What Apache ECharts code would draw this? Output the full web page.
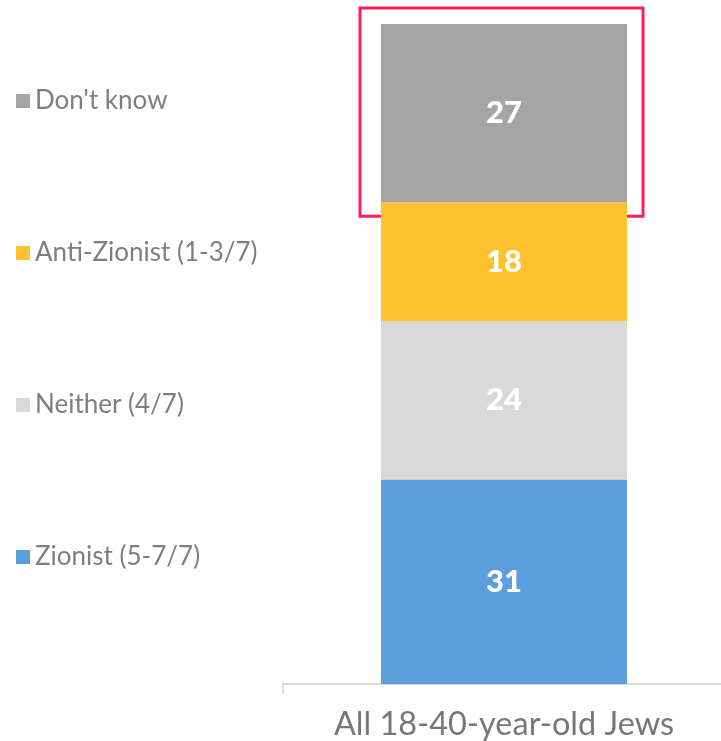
<!DOCTYPE html>
<html>
<head>
<meta charset="utf-8">
<script src="https://cdn.jsdelivr.net/npm/echarts@6/dist/echarts.min.js"></script>
<style>html,body{margin:0;padding:0;background:#fff}#c{width:721px;height:741px}</style>
</head>
<body>
<div id="c"></div>
<script>
const categories = ["All 18-40-year-old Jews"];
const seriesNames = ["Zionist (5-7/7)", "Neither (4/7)", "Anti-Zionist (1-3/7)", "Don't know"];
const zionist = [31];
const neither = [24];
const antiZionist = [18];
const dontKnow = [27];
const colors = ["#5BA0DC", "#D9D9D9", "#FFC22F", "#A5A5A5"];

const values = [zionist, neither, antiZionist, dontKnow];
const chart = echarts.init(document.getElementById('c'));
const series = seriesNames.map((n, i) => ({
  name: n, type: 'bar', stack: 'all', data: values[i], barWidth: 246,
  itemStyle: { color: colors[i] },
  label: { show: true, position: 'inside', color: '#fff', fontFamily: 'Lato', fontWeight: 900, fontSize: 31 }
}));
chart.setOption({
  animation: false,
  grid: { left: 283, width: 442, top: 24, bottom: 57, outerBoundsMode: 'none', containLabel: false },
  legend: {
    orient: 'vertical', left: 16, top: 88, padding: 0,
    data: seriesNames.slice().reverse(),
    icon: 'rect', itemWidth: 14, itemHeight: 14, itemGap: 126,
    textStyle: { color: '#7f7f7f', fontFamily: 'Lato', fontSize: 26, lineHeight: 26 },
    selectedMode: false
  },
  xAxis: {
    type: 'category', data: categories,
    axisLine: { lineStyle: { color: '#d9d9d9', width: 2 } },
    axisTick: { show: true, length: 10, lineStyle: { color: '#d9d9d9', width: 2 } },
    axisLabel: { color: '#777', fontFamily: 'Lato', fontSize: 32.5, margin: 24 }
  },
  yAxis: { type: 'value', min: 0, max: 100, show: false, splitLine: { show: false } },
  series: series
});
const pTop = chart.convertToPixel({ xAxisIndex: 0, yAxisIndex: 0 }, [0, 100]);
const pBot = chart.convertToPixel({ xAxisIndex: 0, yAxisIndex: 0 }, [0, 100 - dontKnow[0]]);
chart.setOption({
  graphic: [{
    type: 'rect',
    shape: { x: pTop[0] - 123 - 21, y: pTop[1] - 16, width: 246 + 37, height: pBot[1] - pTop[1] + 30 },
    style: { fill: 'none', stroke: '#FF1F5A', lineWidth: 3 }
  }]
});
</script>
</body>
</html>
